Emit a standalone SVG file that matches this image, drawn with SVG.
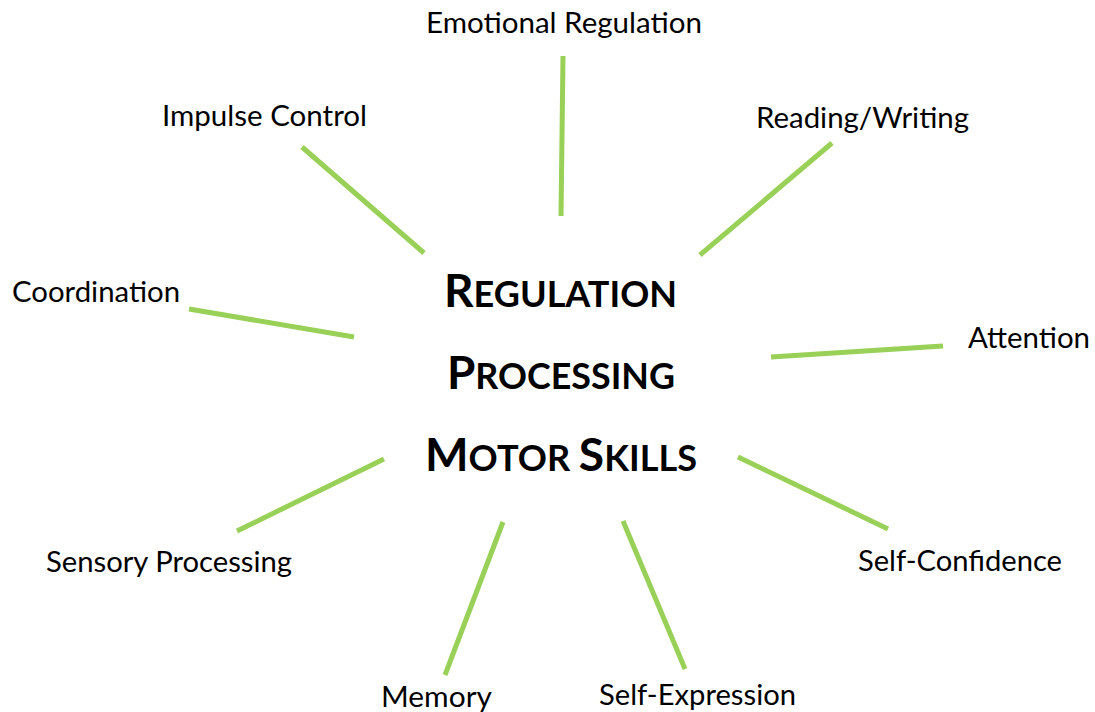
<svg xmlns="http://www.w3.org/2000/svg" width="1095" height="712" viewBox="0 0 1095 712">
<style>
.lbl{font-family:Lato,"Open Sans","Liberation Sans",sans-serif;font-size:28px;fill:#000}
.ctr{font-family:Lato,"Open Sans","Liberation Sans",sans-serif;font-weight:bold;fill:#000}
.big{font-size:46px}
.sm{font-size:36px}
.con line{stroke:#98D058;stroke-width:5;stroke-linecap:butt}
</style>
<rect width="1095" height="712" fill="#fff"/>
<g class="con" id="connectors">
<line x1="563" y1="56" x2="561" y2="216"/>
<line x1="302" y1="147" x2="424" y2="253"/>
<line x1="832" y1="143" x2="700" y2="255"/>
<line x1="189" y1="309" x2="354" y2="337"/>
<line x1="943" y1="346" x2="771" y2="357"/>
<line x1="384" y1="459" x2="237" y2="531"/>
<line x1="503" y1="522" x2="445" y2="675"/>
<line x1="623" y1="521" x2="685" y2="669"/>
<line x1="738" y1="457" x2="888" y2="529"/>
</g>
<g id="center">
<text class="ctr" x="444" y="307" textLength="233" lengthAdjust="spacingAndGlyphs"><tspan class="big">R</tspan><tspan class="sm">EGULATION</tspan></text>
<text class="ctr" x="447" y="389" textLength="228" lengthAdjust="spacingAndGlyphs"><tspan class="big">P</tspan><tspan class="sm">ROCESSING</tspan></text>
<text class="ctr" x="425" y="471" textLength="272" lengthAdjust="spacingAndGlyphs"><tspan class="big">M</tspan><tspan class="sm">OTOR </tspan><tspan class="big">S</tspan><tspan class="sm">KILLS</tspan></text>
</g>
<g id="n-emotional"><text class="lbl" x="426" y="33" textLength="276" lengthAdjust="spacingAndGlyphs">Emotional Regulation</text></g>
<g id="n-impulse"><text class="lbl" x="162" y="126" textLength="205" lengthAdjust="spacingAndGlyphs">Impulse Control</text></g>
<g id="n-reading"><text class="lbl" x="756" y="128" textLength="213" lengthAdjust="spacingAndGlyphs">Reading/Writing</text></g>
<g id="n-coordination"><text class="lbl" x="12" y="302" textLength="168" lengthAdjust="spacingAndGlyphs">Coordination</text></g>
<g id="n-attention"><text class="lbl" x="968" y="348" textLength="122" lengthAdjust="spacingAndGlyphs">Attention</text></g>
<g id="n-sensory"><text class="lbl" x="46" y="572" textLength="246" lengthAdjust="spacingAndGlyphs">Sensory Processing</text></g>
<g id="n-selfconfidence"><text class="lbl" x="858" y="571" textLength="204" lengthAdjust="spacingAndGlyphs">Self-Confidence</text></g>
<g id="n-memory"><text class="lbl" x="381" y="707" textLength="111" lengthAdjust="spacingAndGlyphs">Memory</text></g>
<g id="n-selfexpression"><text class="lbl" x="599" y="705" textLength="197" lengthAdjust="spacingAndGlyphs">Self-Expression</text></g>
</svg>
